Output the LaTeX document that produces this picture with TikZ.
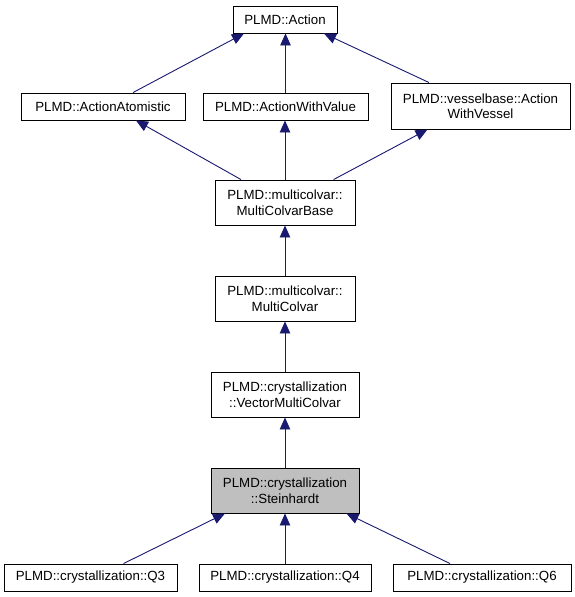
\documentclass[tikz,border=0pt]{standalone}
\usepackage{fontspec}
\setmainfont{Liberation Sans}
\usepackage{tikz}
\usetikzlibrary{calc, arrows.meta, positioning}
\definecolor{edgeblue}{RGB}{25,25,112}
\definecolor{curgray}{RGB}{191,191,191}

\begin{document}
\begin{tikzpicture}[x=1pt, y=-1pt,
    cls/.style={draw=black, line width=0.9pt, inner sep=0pt, align=center,
        font=\fontsize{13.3}{15.5}\selectfont},
    inh/.style={draw=edgeblue, line width=0.9pt, -{Triangle[length=12pt,width=10.5pt]}}]
    \useasboundingbox (0,0) rectangle (575,597);
    \node[cls, minimum width=104, minimum height=27] (act) at (285,19.5) {PLMD::Action};
    \node[cls, minimum width=164, minimum height=27] (aa) at (103,106.5) {PLMD::ActionAtomistic};
    \node[cls, minimum width=165, minimum height=27] (awv) at (285.5,106.5) {PLMD::ActionWithValue};
    \node[cls, minimum width=179, minimum height=46] (awve) at (480.5,106) {PLMD::vesselbase::Action\\WithVessel};
    \node[cls, minimum width=140, minimum height=45] (mcb) at (285,202.5) {PLMD::multicolvar::\\MultiColvarBase};
    \node[cls, minimum width=140, minimum height=45] (mc) at (285,298.5) {PLMD::multicolvar::\\MultiColvar};
    \node[cls, minimum width=148, minimum height=45] (vmc) at (285,394.5) {PLMD::crystallization\\::VectorMultiColvar};
    \node[cls, fill=curgray, minimum width=148, minimum height=45] (st) at (285,490.5) {PLMD::crystallization\\::Steinhardt};
    \node[cls, minimum width=173, minimum height=27] (q3) at (90.5,577.5) {PLMD::crystallization::Q3};
    \node[cls, minimum width=172, minimum height=27] (q4) at (285,577.5) {PLMD::crystallization::Q4};
    \node[cls, minimum width=178, minimum height=27] (q6) at (482,577.5) {PLMD::crystallization::Q6};
    % inheritance arrows, tip at the base class
    \draw[inh] ($(aa.north)+(30,0)$) -- ($(act.south)+(-41,0)$);
    \draw[inh] (awv.north) -- (awv.north |- act.south);
    \draw[inh] ($(awve.north)+(-51.5,0)$) -- ($(act.south)+(39,0)$);
    \draw[inh] ($(mcb.north)+(-44,0)$) -- ($(aa.south)+(33,0)$);
    \draw[inh] (mcb.north) -- (mcb.north |- awv.south);
    \draw[inh] ($(mcb.north)+(48.6,0)$) -- ($(awve.south)+(-53,0)$);
    \draw[inh] (mc.north) -- (mcb.south);
    \draw[inh] (vmc.north) -- (mc.south);
    \draw[inh] (st.north) -- (vmc.south);
    \draw[inh] ($(q3.north)+(33,0)$) -- ($(st.south)+(-60,0)$);
    \draw[inh] (q4.north) -- (st.south);
    \draw[inh] ($(q6.north)+(-32,0)$) -- ($(st.south)+(61.5,0)$);
\end{tikzpicture}
\end{document}
